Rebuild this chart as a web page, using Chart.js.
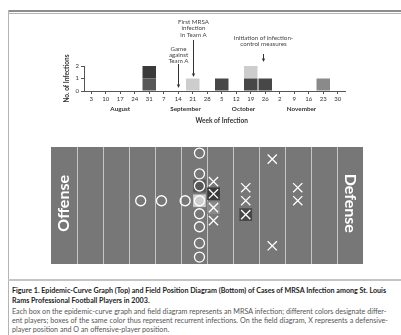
<!DOCTYPE html>
<html>
<head>
<meta charset="utf-8">
<script src="https://cdn.jsdelivr.net/npm/chart.js@4/dist/chart.umd.min.js"></script>
<style>
  html, body { margin: 0; padding: 0; background: #fff; }
  body { width: 401px; height: 335px; position: relative; overflow: hidden; font-family: Lato, "Open Sans", sans-serif; }
  .line { position: absolute; }
  #topA { left: 8px; top: 10px; width: 393px; height: 2px; background: #8c8c8c; }
  #topB { left: 8px; top: 13px; width: 393px; height: 1px; background: #b4b4b4; }
  #left { left: 8px; top: 10px; width: 1px; height: 325px; background: #b4b4b4; }
  #sep { left: 8px; top: 279px; width: 393px; height: 2px; background: #c4c4c4; }
  #epiBox { position: absolute; left: 0; top: 0; width: 401px; height: 130px; }
  #fieldBox { position: absolute; left: 42px; top: 138px; width: 330px; height: 135px; }
  .cap { position: absolute; left: 12px; height: 10px; line-height: 10px; font-size: 7px; color: #555; white-space: nowrap; }
  .cap.b { font-weight: bold; color: #222; }
</style>
</head>
<body>
<div class="line" id="topA"></div>
<div class="line" id="topB"></div>
<div class="line" id="left"></div>
<div class="line" id="sep"></div>
<div id="epiBox"><canvas id="epi"></canvas></div>
<div id="fieldBox"><canvas id="field"></canvas></div>
<div class="cap b" id="cap1" style="top:286px">Figure 1. Epidemic-Curve Graph (Top) and Field Position Diagram (Bottom) of Cases of MRSA Infection among St. Louis</div>
<div class="cap b" id="cap2" style="top:296px">Rams Professional Football Players in 2003.</div>
<div class="cap" id="cap3" style="top:307px">Each box on the epidemic-curve graph and field diagram represents an MRSA infection; different colors designate differ-</div>
<div class="cap" id="cap4" style="top:316px">ent players; boxes of the same color thus represent recurrent infections. On the field diagram, X represents a defensive-</div>
<div class="cap" id="cap5" style="top:325px">player position and O an offensive-player position.</div>

<script>
// ---- epidemic curve data ----
const weekLabels = ['3', '10', '17', '24', '31', '7', '14', '21', '28', '5', '12', '19', '26', '2', '9', '16', '23', '30'];
const monthNames = ['August', 'September', 'October', 'November'];
const monthCenterIdx = [2, 6.5, 10.5, 14.5];

// one series per player (stack order bottom -> top)
const playerC = [0, 0, 0, 0, 1, 0, 0, 0, 0, 0, 0, 0, 0, 0, 0, 0, 0, 0];
const playerD = [0, 0, 0, 0, 1, 0, 0, 0, 0, 0, 0, 0, 0, 0, 0, 0, 0, 0];
const playerE = [0, 0, 0, 0, 0, 0, 0, 0, 0, 1, 0, 1, 1, 0, 0, 0, 0, 0];
const playerB = [0, 0, 0, 0, 0, 0, 0, 0, 0, 0, 0, 0, 0, 0, 0, 0, 1, 0];
const playerA = [0, 0, 0, 0, 0, 0, 0, 1, 0, 0, 0, 1, 0, 0, 0, 0, 0, 0];

const noteTexts = [
    ['First MRSA', 'infection', 'in Team A'],
    ['Game', 'against', 'Team A'],
    ['Initiation of infection-', 'control measures']
];
const noteWeekIdx = [7, 6, 12];

// ---- field diagram data (x in field columns, y in rows from top) ----
const offenseX = [5.71, 5.71, 5.71, 5.71, 5.71, 5.71, 5.71, 5.71, 3.45, 4.25, 5.16];
const offenseY = [7, 31, 45, 62, 77, 92, 111, 127, 62, 62, 62];
const defenseX = [6.25, 6.25, 6.25, 6.25, 7.49, 7.49, 7.49, 8.51, 8.51, 9.49, 9.49];
const defenseY = [40, 54, 70, 85, 47, 62, 78, 14, 114, 47, 62];
const caseX = [5.71, 5.71, 6.25, 6.25, 7.49];
const caseY = [45, 62, 54, 70, 78];
const casePlayer = ['C', 'A', 'D', 'B', 'E'];

// styling
const playerColors = { A: '#cdcdcd', B: '#8a8a8a', C: '#575757', D: '#3a3a3a', E: '#474747' };
const FONT = 'Lato, "Open Sans", sans-serif';

// caption: scale the font so the full lines span the text column (12px -> 387px)
const $ = id => document.getElementById(id);
function fitCaption() {
    const w1 = $('cap1').getBoundingClientRect().width;
    const w3 = $('cap3').getBoundingClientRect().width;
    const boldSize = 7 * 375 / w1;
    const regSize = 7 * 375 / w3;
    ['cap1', 'cap2'].forEach(id => { $(id).style.fontSize = boldSize + 'px'; });
    ['cap3', 'cap4', 'cap5'].forEach(id => { $(id).style.fontSize = regSize + 'px'; });
    // justified line
    const el = $('cap4');
    const w4 = el.getBoundingClientRect().width;
    const gaps = el.textContent.split(' ').length - 1;
    el.style.wordSpacing = ((376 - w4) / gaps) + 'px';
}
fitCaption();

// layout of the annotation text/arrows (canvas pixels)
const noteLayout = [
    { lines: [22, 28.5, 35], from: 40, to: 77, dx: 0 },
    { lines: [49, 55, 61], from: 64, to: 88, dx: 0 },
    { lines: [38, 44.5], from: 54, to: 62, dx: -2 }
];

function drawArrow(ctx, x, y1, y2) {
    ctx.beginPath();
    ctx.moveTo(x, y1);
    ctx.lineTo(x, y2 - 3);
    ctx.stroke();
    ctx.beginPath();
    ctx.moveTo(x - 1.6, y2 - 3.5);
    ctx.lineTo(x + 1.6, y2 - 3.5);
    ctx.lineTo(x, y2);
    ctx.closePath();
    ctx.fill();
}

const epiExtras = {
    id: 'epiExtras',
    afterDraw(chart) {
        const { ctx, chartArea } = chart;
        const xs = chart.scales.x;
        ctx.save();
        ctx.fillStyle = '#333';
        ctx.textAlign = 'center';
        ctx.textBaseline = 'middle';

        // y title
        ctx.save();
        ctx.font = 'bold 6.5px ' + FONT;
        ctx.translate(67, (chartArea.top + chartArea.bottom) / 2);
        ctx.rotate(-Math.PI / 2);
        ctx.fillText('No. of Infections', 0, 0);
        ctx.restore();

        // months
        ctx.font = 'bold 6.3px ' + FONT;
        monthNames.forEach((m, i) => {
            ctx.fillText(m, xs.getPixelForValue(monthCenterIdx[i]), 109);
        });
        ctx.font = 'bold 6.6px ' + FONT;
        ctx.fillText('Week of Infection', xs.getPixelForValue(9), 121);

        // annotations
        ctx.font = '6.2px ' + FONT;
        ctx.fillStyle = '#444';
        ctx.strokeStyle = '#333';
        ctx.lineWidth = 1;
        noteTexts.forEach((lines, i) => {
            const L = noteLayout[i];
            const cx = Math.round(xs.getPixelForValue(noteWeekIdx[i]) + L.dx) + 0.5;
            lines.forEach((t, j) => ctx.fillText(t, cx, L.lines[j]));
            ctx.fillStyle = '#333';
            drawArrow(ctx, cx, L.from, L.to);
            ctx.fillStyle = '#444';
        });
        ctx.restore();
    }
};

function barSet(data, player) {
    return {
        data: data,
        backgroundColor: playerColors[player],
        borderWidth: 0,
        barPercentage: 0.93,
        categoryPercentage: 1
    };
}

new Chart(document.getElementById('epi'), {
    type: 'bar',
    data: {
        labels: weekLabels,
        datasets: [
            barSet(playerC, 'C'),
            barSet(playerD, 'D'),
            barSet(playerE, 'E'),
            barSet(playerB, 'B'),
            barSet(playerA, 'A')
        ]
    },
    options: {
        responsive: true,
        maintainAspectRatio: false,
        animation: false,
        layout: { padding: { left: 70, right: 56, top: 66, bottom: 0 } },
        plugins: { legend: { display: false }, tooltip: { enabled: false } },
        scales: {
            x: {
                stacked: true,
                afterFit: s => { s.height = 39; },
                border: { color: '#555', width: 1 },
                grid: { offset: false, drawOnChartArea: false, tickLength: 3, color: '#555' },
                ticks: { color: '#333', font: { family: FONT, size: 6 }, padding: 1, maxRotation: 0, autoSkip: false }
            },
            y: {
                stacked: true,
                min: 0,
                max: 2,
                afterFit: s => { s.width = 14; },
                border: { color: '#555', width: 1 },
                grid: { drawOnChartArea: false, tickLength: 3, color: '#555' },
                ticks: { stepSize: 1, color: '#333', font: { family: FONT, size: 6 }, padding: 2 }
            }
        }
    },
    plugins: [epiExtras]
});

// ---- field diagram ----
const fieldExtras = {
    id: 'fieldExtras',
    beforeDraw(chart) {
        const { ctx, chartArea: a } = chart;
        ctx.save();
        ctx.fillStyle = '#777777';
        ctx.fillRect(a.left, a.top, a.right - a.left, a.bottom - a.top);
        ctx.restore();
    },
    afterDraw(chart) {
        const { ctx } = chart;
        const xs = chart.scales.x, ys = chart.scales.y;
        [['Offense', 0.5, -1], ['Defense', 11.5, 1]].forEach(([txt, col, dir]) => {
            ctx.save();
            ctx.fillStyle = '#ffffff';
            ctx.font = 'bold 16px ' + FONT;
            ctx.textAlign = 'center';
            ctx.textBaseline = 'middle';
            ctx.translate(xs.getPixelForValue(col), ys.getPixelForValue(65));
            ctx.rotate(dir * Math.PI / 2);
            ctx.fillText(txt, 0, 0);
            ctx.restore();
        });
    }
};

const toPts = (xa, ya) => xa.map((v, i) => ({ x: v, y: ya[i] }));

new Chart(document.getElementById('field'), {
    type: 'scatter',
    data: {
        datasets: [
            {
                data: toPts(offenseX, offenseY),
                pointStyle: 'circle',
                pointRadius: 5,
                backgroundColor: 'rgba(0,0,0,0)',
                borderColor: '#ffffff',
                pointBorderWidth: 1.3,
                order: 1
            },
            {
                data: toPts(defenseX, defenseY),
                pointStyle: 'crossRot',
                pointRadius: 6.5,
                borderColor: '#ffffff',
                pointBorderWidth: 1.3,
                order: 1
            },
            {
                data: toPts(caseX, caseY),
                pointStyle: 'rect',
                pointRadius: 9,
                backgroundColor: casePlayer.map(p => playerColors[p]),
                pointBorderWidth: 0,
                borderWidth: 0,
                order: 3
            }
        ]
    },
    options: {
        responsive: true,
        maintainAspectRatio: false,
        animation: false,
        layout: { padding: 0 },
        plugins: { legend: { display: false }, tooltip: { enabled: false } },
        scales: {
            x: {
                min: 0,
                max: 12,
                afterFit: s => { s.height = 0; },
                border: { display: false },
                grid: {
                    drawTicks: false,
                    lineWidth: 1,
                    color: c => (c.tick && (c.tick.value === 0 || c.tick.value === 12)) ? 'rgba(0,0,0,0)' : '#c6c6c6'
                },
                ticks: { display: false, stepSize: 1 }
            },
            y: { min: 0, max: 135, reverse: true, display: false }
        }
    },
    plugins: [fieldExtras]
});
</script>
</body>
</html>
